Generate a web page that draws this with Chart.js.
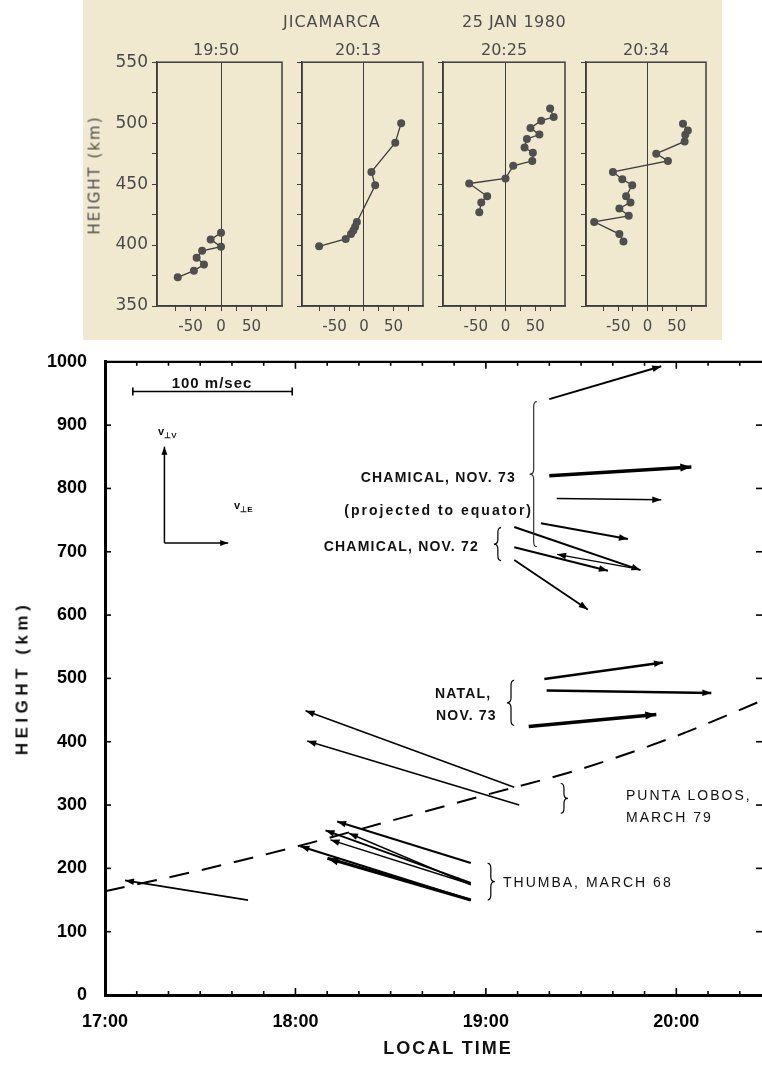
<!DOCTYPE html>
<html>
<head>
<meta charset="utf-8">
<script src="https://cdn.jsdelivr.net/npm/chart.js@4.4.1/dist/chart.umd.min.js"></script>
<style>
html, body { margin: 0; padding: 0; background: #fff; width: 762px; height: 1068px; overflow: hidden; }
#sheet { position: absolute; left: 83px; top: 0; width: 639px; height: 340px; background: #f0e9d0; }
canvas { position: absolute; }
.t { position: absolute; white-space: nowrap; line-height: 1; }
.top { font-family: 'DejaVu Sans', sans-serif; color: #4a4a4a; font-size: 16px; }
.lab { font-family: 'Liberation Sans', Arial, sans-serif; font-weight: bold; color: #111; font-size: 14px; letter-spacing: 1.2px; }
.thin { font-weight: normal; letter-spacing: 2px; }
</style>
</head>
<body>
<div id="sheet"></div>

<canvas id="p1" width="189" height="292" style="left:97px;top:48px"></canvas>
<canvas id="p2" width="185" height="292" style="left:242px;top:48px"></canvas>
<canvas id="p3" width="186" height="292" style="left:383px;top:48px"></canvas>
<canvas id="p4" width="184" height="292" style="left:526px;top:48px"></canvas>
<canvas id="main" width="762" height="735" style="left:0;top:333px"></canvas>

<!-- top panel text -->
<div class="t top" style="left:283px;top:14px;letter-spacing:1px">JICAMARCA</div>
<div class="t top" style="left:462px;top:14px;letter-spacing:0.5px">25 JAN 1980</div>
<div class="t top" style="left:193px;top:42px">19:50</div>
<div class="t top" style="left:335px;top:42px">20:13</div>
<div class="t top" style="left:481px;top:42px">20:25</div>
<div class="t top" style="left:623px;top:42px">20:34</div>
<div class="t top" style="left:95px;top:175px;font-size:15px;letter-spacing:2px;transform:translate(-50%,-50%) rotate(-90deg)">HEIGHT (km)</div>

<!-- bottom panel text -->
<div class="t lab" style="left:212px;top:375px;font-size:15px;letter-spacing:1px;transform:translateX(-50%)">100 m/sec</div>
<div class="t lab" style="left:158px;top:426px;font-size:11px;letter-spacing:0">v<sub style="font-size:8px">⊥V</sub></div>
<div class="t lab" style="left:234px;top:500px;font-size:11px;letter-spacing:0">v<sub style="font-size:8px">⊥E</sub></div>
<div class="t lab" style="right:246px;top:470px">CHAMICAL, NOV. 73</div>
<div class="t lab" style="right:229px;top:503px;letter-spacing:2px">(projected to equator)</div>
<div class="t lab" style="right:283px;top:539px">CHAMICAL, NOV. 72</div>
<div class="t lab" style="left:435px;top:686px">NATAL,</div>
<div class="t lab" style="left:436px;top:708px">NOV. 73</div>
<div class="t lab thin" style="left:626px;top:788px">PUNTA LOBOS,</div>
<div class="t lab thin" style="left:626px;top:810px">MARCH 79</div>
<div class="t lab thin" style="left:503px;top:875px">THUMBA, MARCH 68</div>
<div class="t lab" style="left:448px;top:1039px;font-size:18px;letter-spacing:2px;transform:translateX(-50%)">LOCAL TIME</div>
<div class="t lab" style="left:22px;top:678px;font-size:17px;letter-spacing:4.5px;transform:translate(-50%,-50%) rotate(-90deg)">HEIGHT (km)</div>

<script>
// ---------------- data: Jicamarca profiles (velocity m/s, height km)
const vel1950 = [-71, -44.5, -28, -40, -31, 0, -17, 0];
const hgt1950 = [373.5, 379, 384, 389.6, 395.3, 398.6, 404.6, 410];
const vel2013 = [-76, -31, -22, -18, -15, -12, 19, 12.6, 53, 63];
const hgt2013 = [399, 405, 409, 412, 415, 419, 449, 460, 484, 500];
const vel2025 = [-44, -40.7, -30.8, -61, 0, 13, 45, 46, 32, 36, 57, 42, 60, 81, 75];
const hgt2025 = [427, 435, 440, 450.5, 454.6, 465, 469, 475.7, 480, 487, 490.6, 496, 502, 505, 512];
const vel2034 = [-41, -48, -91, -32, -48, -29, -36.5, -26, -43, -59, 35, 15, 63.5, 64.6, 69, 60.7];
const hgt2034 = [403, 409, 419, 424, 430, 435, 440, 449, 454, 460, 469, 475, 485, 490.5, 494, 499.5];

const velTicks = [-75, -50, -25, 0, 25, 50, 75];
const velLabels = [-50, 0, 50];
const profileHeightTicks = [350, 375, 400, 425, 450, 475, 500, 525, 550];
const profileHeightLabels = [350, 400, 450, 500, 550];

// ---------------- data: drift vectors [tailTime, tailHeight, headTime, headHeight]
const chamical73 = [
    [19.333, 941, 19.921, 993],
    [19.333, 820, 20.079, 834],
    [19.372, 784, 19.921, 782],
    [19.289, 745, 19.746, 720]
];
const chamical72 = [
    [19.149, 739, 19.812, 671],
    [19.149, 707, 19.641, 670],
    [19.795, 673, 19.374, 696],
    [19.149, 687, 19.535, 609]
];
const natal73 = [
    [19.307, 499, 19.930, 525],
    [19.319, 481, 20.184, 477],
    [19.225, 424, 19.895, 443]
];
const puntaLobos79 = [
    [19.149, 328, 18.053, 449],
    [19.175, 300, 18.062, 401]
];
const thumba68 = [
    [18.921, 208.5, 18.219, 274],
    [18.921, 177, 18.158, 260],
    [18.921, 174, 18.281, 255.5],
    [18.921, 175, 18.184, 245],
    [18.921, 150, 18.026, 235],
    [18.921, 150, 18.168, 216]
];
const earlyVector = [
    [17.751, 150, 17.105, 181]
];

// dashed curve (Punta Lobos)
const curveTimes = [17.0, 17.5, 18.0, 18.5, 19.0, 19.5, 20.0, 20.45];
const curveHeights = [164, 197, 234, 275, 316, 357, 409, 465];

const hourTicks = [17, 18, 19, 20];
const hourLabels = ['17:00', '18:00', '19:00', '20:00'];
const heightTicks = [0, 100, 200, 300, 400, 500, 600, 700, 800, 900, 1000];

// ---------------- styles
const groupWidths = {
    chamical73: [2, 3.5, 1.5, 2],
    chamical72: [2, 2, 1.2, 1.8],
    natal73: [2.5, 2.5, 3.5],
    puntaLobos79: [1.5, 1.5],
    thumba68: [2, 2, 1.5, 1.5, 2, 3],
    earlyVector: [1.8]
};
const groups = { chamical73, chamical72, natal73, puntaLobos79, thumba68, earlyVector };

// top: small profile panels
const boxPlugin = {
    id: 'box',
    afterDraw(c) {
        const a = c.chartArea, ctx = c.ctx;
        ctx.save();
        ctx.strokeStyle = '#3d3d3d';
        ctx.lineWidth = 1.5;
        ctx.strokeRect(a.left, a.top, a.right - a.left, a.bottom - a.top);
        ctx.restore();
    }
};

function profile(id, vel, hgt, withLabels) {
    const pts = vel.map((v, i) => ({ x: v, y: hgt[i] }));
    return new Chart(document.getElementById(id), {
        type: 'scatter',
        data: {
            datasets: [{
                data: pts,
                showLine: true,
                borderColor: '#3d3d3d',
                borderWidth: 1.3,
                pointRadius: 4,
                pointBackgroundColor: '#4f4f4f',
                pointBorderWidth: 0
            }]
        },
        options: {
            responsive: false,
            animation: false,
            layout: { padding: { top: 0, right: 4 } },
            plugins: { legend: { display: false }, tooltip: { enabled: false } },
            scales: {
                x: {
                    type: 'linear', min: -105, max: 100,
                    afterBuildTicks: s => { s.ticks = velTicks.map(v => ({ value: v })); },
                    afterFit: s => { s.height = 34; },
                    ticks: {
                        padding: 7, autoSkip: false, maxRotation: 0, color: '#4a4a4a',
                        font: { family: 'DejaVu Sans', size: 15 },
                        callback: v => velLabels.includes(v) ? String(v) : ''
                    },
                    grid: {
                        color: c => (c.tick && c.tick.value === 0) ? '#3d3d3d' : 'rgba(0,0,0,0)',
                        tickColor: '#3d3d3d', tickLength: 5, lineWidth: 1
                    },
                    border: { color: '#3d3d3d', width: 1.5 }
                },
                y: {
                    min: 350, max: 550,
                    afterBuildTicks: s => { s.ticks = profileHeightTicks.map(v => ({ value: v })); },
                    afterFit: s => { s.width = 60; },
                    ticks: {
                        padding: 4, autoSkip: false, color: '#4a4a4a',
                        font: { family: 'DejaVu Sans', size: 17 },
                        callback: v => (withLabels && profileHeightLabels.includes(v)) ? String(v) : ''
                    },
                    grid: { drawOnChartArea: false, tickColor: '#3d3d3d', tickLength: 5 },
                    border: { color: '#3d3d3d', width: 1.5 }
                }
            }
        },
        plugins: [boxPlugin]
    });
}

profile('p1', vel1950, hgt1950, true);
profile('p2', vel2013, hgt2013, false);
profile('p3', vel2025, hgt2025, false);
profile('p4', vel2034, hgt2034, false);

// bottom: drift vectors
const datasets = [];
datasets.push({
    data: curveTimes.map((t, i) => ({ x: t, y: curveHeights[i] })),
    borderColor: '#000', borderWidth: 2, borderDash: [20, 13],
    pointRadius: 0, tension: 0.4, cubicInterpolationMode: 'monotone'
});
Object.keys(groups).forEach(name => {
    groups[name].forEach((v, i) => {
        datasets.push({
            data: [{ x: v[0], y: v[1] }, { x: v[2], y: v[3] }],
            borderColor: '#000',
            borderWidth: groupWidths[name][i],
            pointRadius: 0,
            arrow: true
        });
    });
});

function head(ctx, x0, y0, x1, y1, len, half) {
    const ang = Math.atan2(y1 - y0, x1 - x0);
    const bx = x1 - len * Math.cos(ang), by = y1 - len * Math.sin(ang);
    ctx.beginPath();
    ctx.moveTo(x1, y1);
    ctx.lineTo(bx + half * Math.sin(ang), by - half * Math.cos(ang));
    ctx.lineTo(bx - half * Math.sin(ang), by + half * Math.cos(ang));
    ctx.closePath();
    ctx.fill();
}

const arrowPlugin = {
    id: 'arrowHeads',
    afterDatasetsDraw(chart) {
        const ctx = chart.ctx;
        ctx.save();
        chart.data.datasets.forEach((ds, i) => {
            if (!ds.arrow) return;
            const p = chart.getDatasetMeta(i).data;
            ctx.fillStyle = '#000';
            const big = ds.borderWidth >= 3;
            head(ctx, p[0].x, p[0].y, p[1].x, p[1].y, big ? 11 : 9, big ? 4 : 3.3);
        });
        ctx.restore();
    }
};

// braces: [time, topHeight, bottomHeight, direction]
const braces = [
    [19.063, 738, 686, -1],
    [19.132, 497, 426, -1],
    [19.410, 334, 287, 1],
    [19.026, 208, 150, 1]
];

function brace(ctx, x, y0, y1, dir) {
    const ym = (y0 + y1) / 2, w = 4 * dir;
    ctx.beginPath();
    ctx.moveTo(x - w * 0.8, y0);
    ctx.quadraticCurveTo(x, y0, x, y0 + 5);
    ctx.lineTo(x, ym - 5);
    ctx.quadraticCurveTo(x, ym, x + w, ym);
    ctx.quadraticCurveTo(x, ym, x, ym + 5);
    ctx.lineTo(x, y1 - 5);
    ctx.quadraticCurveTo(x, y1, x - w * 0.8, y1);
    ctx.stroke();
}

const framePlugin = {
    id: 'frame',
    afterDraw(chart) {
        const { ctx, chartArea: a, scales: { x, y } } = chart;
        const line = (x0, y0, x1, y1) => { ctx.beginPath(); ctx.moveTo(x0, y0); ctx.lineTo(x1, y1); ctx.stroke(); };
        ctx.save();
        ctx.strokeStyle = '#000';
        ctx.fillStyle = '#000';
        ctx.lineWidth = 2.2;
        line(a.left, a.top, a.right, a.top);

        // inward ticks
        ctx.lineWidth = 1.6;
        for (let m = 0; ; m += 10) {
            const px = x.getPixelForValue(x.min + m / 60);
            if (px > a.right + 0.5) break;
            const len = m % 60 === 0 ? 7 : 4;
            line(px, a.bottom, px, a.bottom - len);
            line(px, a.top, px, a.top + len);
        }
        heightTicks.forEach(h => {
            const py = y.getPixelForValue(h);
            line(a.left, py, a.left + 6, py);
            line(a.right, py, a.right - 6, py);
        });

        // 100 m/sec scale bar
        ctx.lineWidth = 1.6;
        const sx0 = x.getPixelForValue(17.146), sx1 = x.getPixelForValue(17.983), sy = y.getPixelForValue(953);
        line(sx0, sy, sx1, sy);
        line(sx0, sy - 4, sx0, sy + 4);
        line(sx1, sy - 4, sx1, sy + 4);

        // v⊥V / v⊥E key
        ctx.lineWidth = 1.5;
        const ox = x.getPixelForValue(17.312), oy = y.getPixelForValue(714);
        const uy = y.getPixelForValue(866), ex = x.getPixelForValue(17.647);
        line(ox, oy, ox, uy);
        line(ox, oy, ex, oy);
        head(ctx, ox, oy, ox, uy, 8, 3);
        head(ctx, ox, oy, ex, oy, 8, 3);

        // braces
        ctx.lineWidth = 1.2;
        braces.forEach(b => brace(ctx, x.getPixelForValue(b[0]), y.getPixelForValue(b[1]), y.getPixelForValue(b[2]), b[3]));
        ctx.strokeStyle = '#333';
        brace(ctx, x.getPixelForValue(19.251), y.getPixelForValue(937), y.getPixelForValue(708), -1);
        ctx.restore();
    }
};

new Chart(document.getElementById('main'), {
    type: 'line',
    data: { datasets },
    options: {
        responsive: false,
        animation: false,
        layout: { padding: { top: 0, right: 0, left: 0, bottom: 0 } },
        plugins: { legend: { display: false }, tooltip: { enabled: false } },
        scales: {
            x: {
                type: 'linear', min: 17, max: 20.45,
                afterBuildTicks: s => { s.ticks = hourTicks.map(v => ({ value: v })); },
                afterFit: s => { s.height = 73; },
                ticks: {
                    padding: 16, autoSkip: false, maxRotation: 0, color: '#000',
                    font: { family: 'Liberation Sans', size: 18, weight: 'bold' },
                    callback: (v, i) => hourLabels[i]
                },
                grid: { display: false, drawTicks: false },
                border: { display: true, color: '#000', width: 3 }
            },
            y: {
                min: 0, max: 1000,
                afterBuildTicks: s => { s.ticks = heightTicks.map(v => ({ value: v })); },
                afterFit: s => { s.width = 105; },
                ticks: {
                    padding: 18, autoSkip: false, color: '#000',
                    font: { family: 'Liberation Sans', size: 18, weight: 'bold' },
                    callback: v => String(v)
                },
                grid: { display: false, drawTicks: false },
                border: { display: true, color: '#000', width: 3 }
            }
        }
    },
    plugins: [arrowPlugin, framePlugin]
});
</script>
</body>
</html>
